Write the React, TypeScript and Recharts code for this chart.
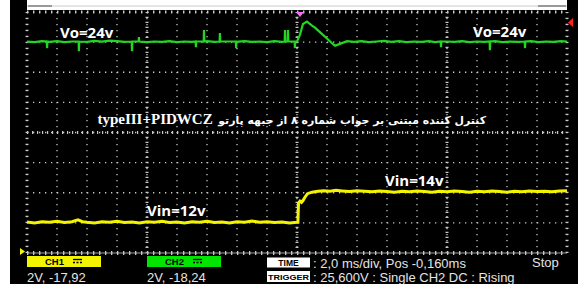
import React from 'react';
import { ComposedChart, Line, XAxis, YAxis, CartesianGrid, ReferenceLine } from 'recharts';

// screen is 18 x 8 divisions, values below are in divisions
const xTicks = [0, 1, 2, 3, 4, 5, 6, 7, 8, 9, 10, 11, 12, 13, 14, 15, 16, 17, 18];
const yTicks = [0, 1, 2, 3, 4, 5, 6, 7, 8];
const tickedColumns = [4, 9, 14];

// CH2 - output voltage (green)
const ch2Samples: [number, number][] = [
  [0, 7.02], [0.25, 7.0], [0.5, 7.03], [0.66, 7.02], [0.67, 6.8], [0.68, 7.02],
  [0.75, 7.01], [1.0, 7.03], [1.25, 7.0], [1.5, 7.02], [1.72, 7.02], [1.73, 6.7], [1.74, 7.02],
  [2.0, 7.01], [2.25, 7.04], [2.5, 7.02], [2.75, 7.05], [3.0, 7.03], [3.25, 7.01],
  [3.49, 7.02], [3.5, 6.7], [3.51, 7.02], [3.72, 7.02], [3.73, 7.17], [3.74, 7.02],
  [4.0, 7.0], [4.25, 7.02], [4.5, 7.01], [4.75, 7.03], [5.0, 7.0], [5.25, 7.02], [5.5, 7.01],
  [5.62, 7.02], [5.63, 6.83], [5.64, 7.02], [5.89, 7.02], [5.9, 7.4], [5.91, 7.02],
  [6.0, 7.03], [6.25, 7.01], [6.42, 7.02], [6.43, 7.3], [6.44, 7.02], [6.6, 7.02],
  [6.96, 7.02], [6.97, 6.8], [6.98, 7.01], [7.25, 7.03], [7.5, 7.01], [7.75, 7.02],
  [8.0, 7.0], [8.25, 7.03], [8.5, 7.01], [8.59, 7.02], [8.6, 7.4], [8.61, 7.02],
  [8.69, 7.02], [8.7, 7.4], [8.71, 7.02], [8.8, 7.02], [8.92, 7.02], [8.93, 6.8], [8.94, 7.02],
  [9.0, 7.02], [9.1, 7.25], [9.2, 7.6], [9.33, 7.68], [9.5, 7.55], [9.6, 7.48], [9.8, 7.3],
  [10.0, 7.12], [10.2, 6.93], [10.27, 6.88], [10.45, 6.95], [10.67, 7.03],
  [10.9, 7.01], [11.15, 7.03], [11.4, 7.0], [11.65, 7.02], [11.9, 7.04], [12.15, 7.01],
  [12.4, 7.03], [12.65, 7.0], [12.9, 7.02], [13.15, 7.01], [13.4, 7.03], [13.6, 7.0],
  [13.79, 7.02], [13.8, 6.83], [13.81, 7.02], [14.0, 7.02], [14.25, 7.01], [14.5, 7.03],
  [14.75, 7.0], [15.0, 7.02], [15.25, 7.01], [15.42, 7.02], [15.43, 6.73], [15.44, 7.02],
  [15.6, 7.03], [15.85, 7.0], [16.1, 7.02], [16.35, 7.01], [16.59, 7.02], [16.6, 6.8], [16.61, 7.02],
  [16.8, 7.03], [17.05, 7.0], [17.3, 7.02], [17.55, 7.01], [17.8, 7.03], [18.0, 7.02],
];

// CH1 - input voltage (yellow)
const ch1Samples: [number, number][] = [
  [0, 1.03], [0.25, 1.0], [0.5, 1.04], [0.75, 1.02], [1.0, 1.05], [1.25, 1.01], [1.5, 1.04],
  [1.7, 1.1], [1.85, 1.04], [2.0, 1.02], [2.25, 1.0], [2.5, 1.04], [2.75, 1.02], [3.0, 1.05],
  [3.25, 1.01], [3.5, 1.03], [3.75, 1.0], [4.0, 1.04], [4.25, 1.02], [4.5, 1.05], [4.75, 1.01],
  [5.0, 1.03], [5.25, 1.0], [5.5, 1.04], [5.75, 1.02], [6.0, 1.05], [6.25, 1.01], [6.5, 1.03],
  [6.75, 1.0], [7.0, 1.04], [7.25, 1.02], [7.5, 1.06], [7.75, 1.02], [8.0, 1.04], [8.25, 1.01],
  [8.5, 1.03], [8.75, 1.0], [9.0, 1.02], [9.03, 1.02], [9.05, 1.66], [9.1, 1.72], [9.15, 1.68],
  [9.2, 1.74], [9.27, 1.86], [9.35, 1.97], [9.5, 2.02], [9.7, 2.05], [9.9, 2.07], [10.1, 2.05],
  [10.3, 2.08], [10.5, 2.06], [10.75, 2.04], [11.0, 2.07], [11.25, 2.05], [11.5, 2.03],
  [11.75, 2.06], [12.0, 2.04], [12.25, 2.02], [12.5, 2.05], [12.75, 2.03], [13.0, 2.06],
  [13.25, 2.04], [13.5, 2.02], [13.75, 2.05], [14.0, 2.03], [14.25, 2.06], [14.5, 2.04],
  [14.75, 2.02], [15.0, 2.05], [15.25, 2.03], [15.5, 2.06], [15.75, 2.04], [16.0, 2.02],
  [16.25, 2.05], [16.5, 2.03], [16.75, 2.06], [17.0, 2.04], [17.25, 2.05], [17.5, 2.03],
  [17.75, 2.06], [18.0, 2.07],
];

const ch2Data = ch2Samples.map(([t, v]) => ({ t, v }));
const ch1Data = ch1Samples.map(([t, v]) => ({ t, v }));

const outLabel = 'Vo=24v';
const inLabelBefore = 'Vin=12v';
const inLabelAfter = 'Vin=14v';
const captionFa = 'کنترل کننده مبتنی بر جواب شماره ۸ از جبهه پارتو';
const captionEn = 'typeIII+PIDWCZ';
const ch1Setting = '2V, -17,92';
const ch2Setting = '2V, -18,24';
const timeSetting = ': 2,0 ms/div, Pos -0,160ms';
const triggerSetting = ': 25,600V : Single CH2 DC : Rising';

const W = 578;
const H = 284;
const GRID = '#c8c8c8';
const GREEN = '#22d622';
const YELLOW = '#f4f400';
const LIGHT = '#e4e4e4';

const sans = '"Liberation Sans", Arial, sans-serif';
const label = '"Open Sans", "Liberation Sans", sans-serif';

const DcIcon = ({ x, y }: { x: number; y: number }) => (
  <g stroke="#000" strokeWidth={1.3}>
    <line x1={x} y1={y} x2={x + 9} y2={y} />
    <line x1={x} y1={y + 3} x2={x + 9} y2={y + 3} strokeDasharray="2 1.5" />
  </g>
);

export default function App() {
  return (
    <div style={{ position: 'absolute', left: 0, top: 0, width: W, height: H, background: '#fff' }}>
      {/* scope screen */}
      <div style={{ position: 'absolute', left: 10, top: 0, width: W - 10, height: H, background: '#000' }} />
      <div style={{ position: 'absolute', left: 27, top: 0, width: 540, height: 10, background: '#fff' }} />

      <div style={{ position: 'absolute', left: 0, top: 0 }}>
        <ComposedChart width={W} height={H} margin={{ top: 12, right: 11, bottom: 31, left: 27 }}>
          <XAxis type="number" dataKey="t" domain={[0, 18]} ticks={xTicks} hide allowDataOverflow />
          <YAxis type="number" dataKey="v" domain={[0, 8]} ticks={yTicks} hide allowDataOverflow />
          <CartesianGrid stroke={GRID} strokeWidth={1.3} strokeDasharray="1.3 4.7" />
          {tickedColumns.map((c) => (
            <ReferenceLine key={c} x={c} stroke={GRID} strokeWidth={3} strokeDasharray="1.2 3.8" />
          ))}
          <ReferenceLine y={4} stroke={GRID} strokeWidth={3} strokeDasharray="1.2 3.8" />
          <ReferenceLine y={8} stroke={GRID} strokeWidth={3} strokeDasharray="1.3 4.7" />
          <ReferenceLine y={0} stroke="#999" strokeWidth={1} />
          <ReferenceLine y={0} stroke={GRID} strokeWidth={4} strokeDasharray="1.3 4.7" />
          <ReferenceLine x={0} stroke={GRID} strokeWidth={3} strokeDasharray="1.3 4.7" />
          <ReferenceLine x={18} stroke={GRID} strokeWidth={3} strokeDasharray="1.3 4.7" />
          <Line data={ch2Data} dataKey="v" type="linear" stroke={GREEN} strokeWidth={2.2} dot={false} isAnimationActive={false} />
          <Line data={ch1Data} dataKey="v" type="linear" stroke={YELLOW} strokeWidth={3} dot={false} isAnimationActive={false} />
        </ComposedChart>
      </div>

      {/* markers, readouts and annotations */}
      <svg width={W} height={H} style={{ position: 'absolute', left: 0, top: 0, pointerEvents: 'none' }}>
        <line x1={27} y1={6} x2={567} y2={6} stroke="#ccc" strokeWidth={1} />
        <line x1={28} y1={6} x2={52} y2={6} stroke="#999" strokeWidth={2} />
        <line x1={538} y1={6} x2={566} y2={6} stroke="#999" strokeWidth={2} />
        <polygon points="296,12 304,12 300,17" fill="#f070f0" />
        <polygon points="573,18 573,27 568,22.5" fill="#ff2020" />
        <polygon points="20,248 20,255 25,251.5" fill={YELLOW} />

        <text x={60} y={38} fill="#fff" fontFamily={label} fontWeight={700} fontSize={15}>{outLabel}</text>
        <text x={473} y={36.5} fill="#fff" fontFamily={label} fontWeight={700} fontSize={15}>{outLabel}</text>
        <text x={147} y={216} fill="#fff" fontFamily={label} fontWeight={700} fontSize={15}>{inLabelBefore}</text>
        <text x={385} y={186} fill="#fff" fontFamily={label} fontWeight={700} fontSize={15}>{inLabelAfter}</text>

        <rect x={27} y={256} width={74} height={11} fill={YELLOW} />
        <text x={45} y={265} fontFamily={sans} fontWeight={700} fontSize={9.5} fill="#000">CH1</text>
        <DcIcon x={73} y={259.5} />
        <text x={27} y={282} fontFamily={sans} fontSize={13} fill={LIGHT}>{ch1Setting}</text>

        <rect x={147} y={256} width={74} height={11} fill="#00e400" />
        <text x={165} y={265} fontFamily={sans} fontWeight={700} fontSize={9.5} fill="#000">CH2</text>
        <DcIcon x={193} y={259.5} />
        <text x={147} y={282} fontFamily={sans} fontSize={13} fill={LIGHT}>{ch2Setting}</text>

        <rect x={267} y={257.5} width={43} height={10} fill="#fff" />
        <text x={288.5} y={266} textAnchor="middle" fontFamily={sans} fontWeight={700} fontSize={8.5} fill="#000">TIME</text>
        <rect x={267} y={271} width={43} height={11} fill="#fff" />
        <text x={288.5} y={280} textAnchor="middle" fontFamily={sans} fontWeight={700} fontSize={8} fill="#000" textLength={41} lengthAdjust="spacingAndGlyphs">TRIGGER</text>
        <text x={313} y={267.5} fontFamily={sans} fontSize={13} fill={LIGHT}>{timeSetting}</text>
        <text x={313} y={281.5} fontFamily={sans} fontSize={13} fill={LIGHT}>{triggerSetting}</text>
        <text x={532} y={267} fontFamily={sans} fontSize={13} fill={LIGHT}>Stop</text>
      </svg>

      <div
        dir="rtl"
        style={{
          position: 'absolute',
          right: W - 486,
          top: 110,
          color: '#fff',
          fontFamily: '"DejaVu Sans", sans-serif',
          fontWeight: 700,
          lineHeight: '18px',
          whiteSpace: 'nowrap',
        }}
      >
        <span style={{ fontSize: 10.9 }}>{captionFa}</span>{' '}
        <span style={{ fontSize: 15, fontFamily: '"Liberation Serif", serif' }}>{captionEn}</span>
      </div>
    </div>
  );
}
